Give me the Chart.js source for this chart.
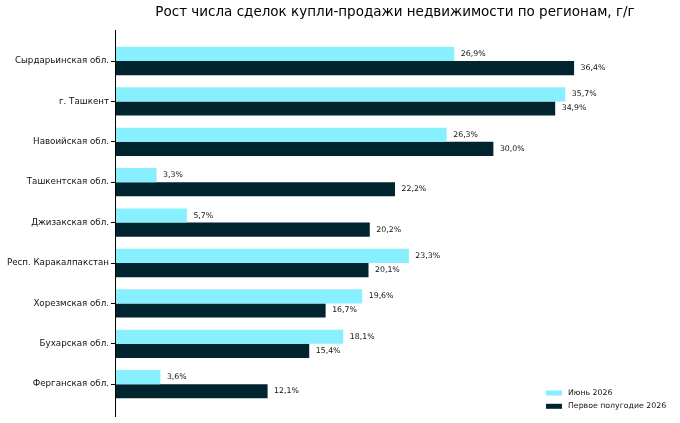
<!DOCTYPE html>
<html><head><meta charset="utf-8">
<script src="https://cdn.jsdelivr.net/npm/chart.js@4"></script>
<style>html,body{margin:0;padding:0;background:#fff}#wrap{width:680px;height:423px;position:relative}</style>
</head><body><div id="wrap"><canvas id="c"></canvas></div>
<script>
const categories = ["Сырдарьинская обл.","г. Ташкент","Навоийская обл.","Ташкентская обл.","Джизакская обл.","Респ. Каракалпакстан","Хорезмская обл.","Бухарская обл.","Ферганская обл."];
const june2026 = [26.9,35.7,26.3,3.3,5.7,23.3,19.6,18.1,3.6];
const h1_2026 = [36.4,34.9,30.0,22.2,20.2,20.1,16.7,15.4,12.1];
const seriesNames = ["Июнь 2026","Первое полугодие 2026"];
const titleText = "Рост числа сделок купли-продажи недвижимости по регионам, г/г";
const colors = ["#88EFFF","#00252E"];
const FONT = "'DejaVu Sans', sans-serif";

const fmt = v => v.toFixed(1).replace('.', ',') + '%';

const extras = {
  id: 'extras',
  afterDraw(chart) {
    const ctx = chart.ctx;
    const ca = chart.chartArea;
    ctx.save();
    // left spine
    ctx.strokeStyle = '#000'; ctx.lineWidth = 1;
    ctx.beginPath(); ctx.moveTo(ca.left + 0.5, 30); ctx.lineTo(ca.left + 0.5, 417); ctx.stroke();
    // value labels
    ctx.font = "7.8px " + FONT; ctx.fillStyle = '#111';
    ctx.textBaseline = 'middle'; ctx.textAlign = 'left';
    chart.data.datasets.forEach((ds, i) => {
      chart.getDatasetMeta(i).data.forEach((bar, j) => {
        ctx.fillText(fmt(ds.data[j]), bar.x + 6.5, bar.y);
      });
    });
    // legend
    const lx = 546, ly = [393, 406.3];
    ctx.font = "7.8px " + FONT;
    chart.data.datasets.forEach((ds, i) => {
      ctx.fillStyle = ds.backgroundColor;
      ctx.fillRect(lx, ly[i] - 2.5, 16, 5);
      ctx.fillStyle = '#111';
      ctx.fillText(ds.label, lx + 22, ly[i]);
    });
    ctx.restore();
  }
};

new Chart(document.getElementById('c'), {
  type: 'bar',
  data: {
    labels: categories,
    datasets: [
      { label: seriesNames[0], data: june2026, backgroundColor: colors[0], categoryPercentage: 0.7, barPercentage: 1.0 },
      { label: seriesNames[1], data: h1_2026, backgroundColor: colors[1], categoryPercentage: 0.7, barPercentage: 1.0 }
    ]
  },
  options: {
    indexAxis: 'y',
    responsive: true,
    maintainAspectRatio: false,
    animation: false,
    layout: { padding: { top: 0, right: 5, bottom: 18.6, left: 0 } },
    plugins: {
      legend: { display: false },
      tooltip: { enabled: false },
      title: {
        display: true, text: titleText, fullSize: false,
        color: '#000', font: { family: FONT, size: 13.5, weight: 'normal', lineHeight: 1.2 },
        padding: { top: 3.9, bottom: 20.7 }
      }
    },
    scales: {
      x: { display: false, min: 0, max: 44.4 },
      y: {
        offset: true,
        border: { display: false },
        grid: { display: true, drawOnChartArea: false, offset: false, tickLength: 4, color: '#000', tickColor: '#000' },
        ticks: { color: '#111', font: { family: FONT, size: 8.7 }, padding: 2 },
        afterFit(scale) { scale.width = 115; }
      }
    }
  },
  plugins: [extras]
});
</script></body></html>
